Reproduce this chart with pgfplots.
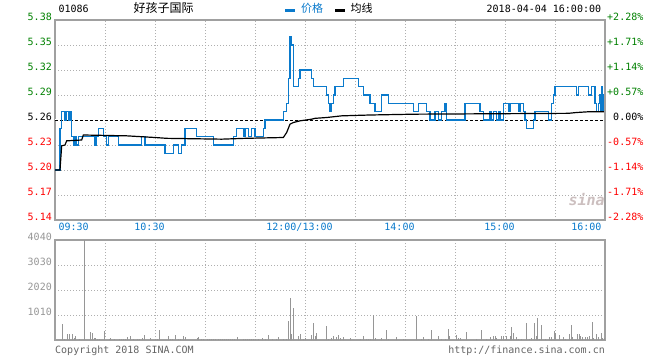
\documentclass[border=0pt]{standalone}
\usepackage{pgfplots}
\pgfplotsset{compat=1.18}
\usepackage{fontspec}
\setmainfont{DejaVu Sans Mono}
\newfontfamily\cjk{Noto Sans CJK SC}
\definecolor{pblue}{RGB}{10,122,204}
\definecolor{tgreen}{RGB}{0,128,0}
\definecolor{tred}{RGB}{255,0,0}
\definecolor{fgray}{RGB}{160,160,160}
\definecolor{ggray}{RGB}{175,175,175}
\definecolor{vgray}{RGB}{150,150,150}
\definecolor{cgray}{RGB}{100,100,100}

\pgfplotstableread{
t p
0 5.20
3 5.25
4 5.27
6 5.26
7 5.27
8 5.26
9 5.27
10 5.24
11 5.23
12 5.24
13 5.23
14 5.24
24 5.23
25 5.24
26 5.25
29 5.24
31 5.23
32 5.24
38 5.23
52 5.24
54 5.23
66 5.22
71 5.23
74 5.22
76 5.23
78 5.25
85 5.24
95 5.23
107 5.24
109 5.25
113 5.24
114 5.25
116 5.24
118 5.25
120 5.24
125 5.25
126 5.26
137 5.27
139 5.28
140 5.31
141 5.36
142 5.35
143 5.30
146 5.31
147 5.32
154 5.31
155 5.30
163 5.29
164 5.28
165 5.27
166 5.28
167 5.29
168 5.30
173 5.31
182 5.30
185 5.29
189 5.28
192 5.27
196 5.29
200 5.28
215 5.27
218 5.28
223 5.27
225 5.26
228 5.27
230 5.26
232 5.27
234 5.28
235 5.26
246 5.28
255 5.27
257 5.26
261 5.27
262 5.26
263 5.27
265 5.26
266 5.27
267 5.26
269 5.28
272 5.27
273 5.28
278 5.27
279 5.28
281 5.27
282 5.26
283 5.25
287 5.26
288 5.27
296 5.26
298 5.28
299 5.29
300 5.30
313 5.29
314 5.30
320 5.29
322 5.30
324 5.28
325 5.27
326 5.28
327 5.29
327.5 5.27
328 5.30
328.5 5.27
329 5.29
329.5 5.26
330 5.26
}\pricetab

\pgfplotstableread{
t a
0 5.200
3 5.200
4 5.229
6 5.230
7 5.235
16 5.236
17 5.242
43 5.241
60 5.239
67 5.238
100 5.237
114 5.238
137 5.239
139 5.245
140 5.250
141 5.255
143 5.257
147 5.259
154 5.261
156 5.262
163 5.263
172 5.265
189 5.266
216 5.267
308 5.268
313 5.269
321 5.270
330 5.270
}\avgtab

\pgfplotstableread{
t v
4.4 646
5.6 40
7.4 242
8.6 242
10.4 242
11.4 80
12.2 160
14.6 40
17.7 4040
21.2 323
22.4 283
23.6 81
24.2 81
25.4 40
26.6 40
29.7 377
32.6 40
33.2 81
35.6 40
38.6 40
39.6 40
40.8 40
42 40
43.4 121
45 160
46.8 40
49.2 40
50.4 40
52.2 80
53.6 202
57 80
60 40
61.4 40
62.6 404
67.8 160
69 40
70.2 40
72 202
74 40
75.4 40
77 160
78.2 121
85.6 80
86.2 121
87.6 40
88.8 40
91.2 40
92.4 40
93.6 40
94.8 40
96 40
97.8 40
99 40
100.2 40
101.4 40
102.6 40
103.8 40
105 40
106.2 40
107.4 40
109.4 121
112.8 40
114 40
115.2 40
116.4 40
117.6 40
118.8 40
120 40
122 40
124.2 80
126 40
128 202
130.2 40
132.6 40
134 121
136.8 40
138.6 40
140 768
141 1700
141.8 242
143 1300
146 160
147.2 242
149 40
150.2 80
153.6 202
155 690
156.2 160
156.8 283
162.8 570
164 40
166 67
167 162
168.6 107
169.8 215
171 67
173 107
177.4 67
183 40
185 162
186.6 40
187.8 40
189 40
191 997
192.4 67
196 67
198.6 404
200 40
205 107
209 40
210 40
217 970
220 40
221 135
224 40
226 404
230 162
232 40
234 40
236 444
236.6 162
241 202
242 81
243 67
246.6 323
253 40
256 404
259 40
261 107
263 162
264 162
265 67
268 162
269 162
270 40
271 162
273 162
274 538
275 270
277 135
278 40
280 40
283 673
284.4 40
286 67
287.4 673
288.6 162
289.4 875
290.6 40
292 606
294 40
296.6 107
298 107
299.4 350
300.2 270
302.6 202
305 107
306 40
308.6 242
309.8 606
310.6 107
313.4 242
314.6 242
315.4 162
316.6 107
318 107
319.4 107
320.6 162
322.4 727
323 67
325 242
326.2 135
327.8 283
328.6 67
329.6 67
}\voltab

\begin{document}
\begin{tikzpicture}
\useasboundingbox (0pt,0pt) rectangle (660pt,360pt);
\pgfplotsset{
  every tick label/.append style={font=\fontsize{10}{12}\selectfont},
  common/.style={
    anchor=south west, scale only axis, width=550pt,
    xmin=0, xmax=330,
    tick style={draw=none},
    axis line style={fgray, line width=1.5pt},
    major grid style={ggray, dash pattern=on 1pt off 2pt, line width=0.9pt},
    xtick={0,30,...,330},
    xticklabels={},
  }
}
% price panel
\begin{axis}[common, at={(55pt,140pt)}, height=200pt,
  ymin=5.14, ymax=5.38,
  ytick={5.14,5.17,5.20,5.23,5.26,5.29,5.32,5.35,5.38},
  yticklabels={\textcolor{tred}{5.14},\textcolor{tred}{5.17},\textcolor{tred}{5.20},\textcolor{tred}{5.23},5.26,\textcolor{tgreen}{5.29},\textcolor{tgreen}{5.32},\textcolor{tgreen}{5.35},\textcolor{tgreen}{5.38}},
  yticklabel style={anchor=base east, inner sep=0pt, xshift=-3pt},
  grid=major, clip=false]
\addplot[white, line width=1.2pt, forget plot] coordinates {(0,5.26) (330,5.26)};
\addplot[black, line width=0.9pt, dash pattern=on 3pt off 2pt] coordinates {(0,5.26) (330,5.26)};
\addplot[pblue, line width=1.2pt, const plot mark left] table[x=t,y=p] {\pricetab};
\addplot[black, line width=1.2pt] table[x=t,y=a] {\avgtab};
\begin{scope}[every node/.style={text=pblue, font=\fontsize{10}{12}\selectfont, yshift=-10.7pt}]
\node[anchor=base west] at (axis cs:0,5.14) {09:30};
\node[anchor=base, xshift=-5.5pt] at (axis cs:60,5.14) {10:30};
\node[anchor=base, xshift=-5.5pt] at (axis cs:150,5.14) {12:00/13:00};
\node[anchor=base, xshift=-5.5pt] at (axis cs:210,5.14) {14:00};
\node[anchor=base, xshift=-5.5pt] at (axis cs:270,5.14) {15:00};
\node[anchor=base east] at (axis cs:330,5.14) {16:00};
\end{scope}
\node[text=red!20!black!25, font=\bfseries\itshape\fontsize{15}{15}\selectfont, anchor=center] at (axis cs:319,5.165) {sina};
\end{axis}
% percent axis
\begin{axis}[common, at={(55pt,140pt)}, height=200pt,
  ymin=5.14, ymax=5.38, axis y line*=right, axis x line=none,
  ytick={5.14,5.17,5.20,5.23,5.26,5.29,5.32,5.35,5.38},
  yticklabels={\textcolor{tred}{-2.28\%},\textcolor{tred}{-1.71\%},\textcolor{tred}{-1.14\%},\textcolor{tred}{-0.57\%},\hphantom{+}0.00\%,\textcolor{tgreen}{+0.57\%},\textcolor{tgreen}{+1.14\%},\textcolor{tgreen}{+1.71\%},\textcolor{tgreen}{+2.28\%}},
  yticklabel style={anchor=base west, inner sep=0pt, xshift=2pt}]
\end{axis}
% volume panel
\begin{axis}[common, at={(55pt,20pt)}, height=100pt,
  ymin=0, ymax=4040,
  ytick={1010,2020,3030,4040},
  yticklabels={1010,2020,3030,4040},
  yticklabel style={anchor=base east, inner sep=0pt, xshift=-3pt, text=vgray},
  grid=major]
\addplot[vgray, line width=1pt, ycomb, mark=none] table[x=t,y=v] {\voltab};
\end{axis}
% header
\node[anchor=base west, font=\fontsize{10}{12}\selectfont] at (55pt,347.5pt) {01086};
\node[anchor=base west, font=\cjk\fontsize{12}{12}\selectfont] at (130pt,347.5pt) {好孩子国际};
\draw[pblue, line width=3pt] (285pt,349.5pt) -- (295pt,349.5pt);
\node[anchor=base west, text=pblue, font=\cjk\fontsize{11}{12}\selectfont, inner sep=0pt] at (301pt,347.5pt) {价格};
\draw[black, line width=3pt] (335pt,349.5pt) -- (345pt,349.5pt);
\node[anchor=base west, font=\cjk\fontsize{11}{12}\selectfont, inner sep=0pt] at (350.5pt,347.5pt) {均线};
\node[anchor=base west, font=\fontsize{10}{12}\selectfont, inner sep=0pt] at (486.5pt,347.5pt) {2018-04-04 16:00:00};
% footer
\node[anchor=base west, text=cgray, font=\fontsize{10}{12}\selectfont, inner sep=0pt] at (55pt,7pt) {Copyright 2018 SINA.COM};
\node[anchor=base east, text=cgray, font=\fontsize{10}{12}\selectfont, inner sep=0pt] at (605pt,7pt) {http://finance.sina.com.cn};
\end{tikzpicture}
\end{document}
